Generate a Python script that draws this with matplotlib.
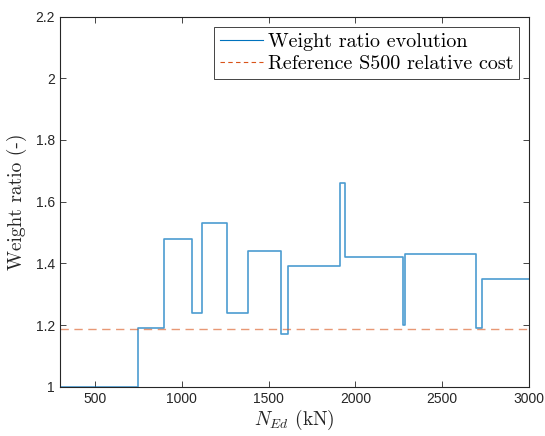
import matplotlib
matplotlib.use("Agg")
import matplotlib.pyplot as plt

# Step change points (kN) and weight ratio holding from each point on
n_ed = [300, 750, 900, 1060, 1115, 1262, 1381, 1574, 1610, 1912, 1943, 2273, 2285, 2695, 2729, 3000]
ratio = [1.00, 1.19, 1.48, 1.24, 1.53, 1.24, 1.44, 1.17, 1.39, 1.66, 1.42, 1.20, 1.43, 1.19, 1.35, 1.35]
ref_cost = 1.187

xticks = [500, 1000, 1500, 2000, 2500, 3000]
yticks = [1, 1.2, 1.4, 1.6, 1.8, 2, 2.2]
yticklabels = ["1", "1.2", "1.4", "1.6", "1.8", "2", "2.2"]

plt.rcParams['mathtext.fontset'] = 'cm'
plt.rcParams['font.family'] = ['Liberation Sans', 'DejaVu Sans']

fig = plt.figure(figsize=(5.45, 4.36), dpi=100)
ax = fig.add_axes([0.110, 0.113, 0.861, 0.849])

ax.plot(n_ed, ratio, drawstyle='steps-post', color='#0072BD', lw=1.2, alpha=0.7,
        label='Weight ratio evolution')
ax.axhline(ref_cost, color='#D95319', lw=1.0, ls=(0, (6, 4)), alpha=0.6,
           label='Reference S500 relative cost')

ax.set_xlim(300, 3000)
ax.set_ylim(1, 2.2)
ax.set_xticks(xticks)
ax.set_yticks(yticks)
ax.set_yticklabels(yticklabels)
ax.tick_params(direction='in', top=True, right=True, labelsize=10,
               colors='#262626', length=4, width=0.6)
for s in ax.spines.values():
    s.set_color('#262626')
    s.set_linewidth(0.8)

ax.set_xlabel(r'$N_{Ed}$ (kN)', fontfamily='cmr10', fontsize=14, color='#262626', labelpad=2)
ax.set_ylabel('Weight ratio (-)', fontfamily='cmr10', fontsize=14, color='#262626', labelpad=6)

leg = ax.legend(loc='upper right', prop={'family': 'cmr10', 'size': 14.5},
                fancybox=False, framealpha=1, edgecolor='#262626',
                handlelength=2.1, handletextpad=0.25, borderpad=0.3,
                labelspacing=0.22, borderaxespad=0.5)
leg.get_frame().set_linewidth(0.6)
leg.legend_handles[0].set_alpha(1.0)
leg.legend_handles[0].set_linewidth(0.8)
leg.legend_handles[1].set_alpha(1.0)
leg.legend_handles[1].set_linewidth(0.8)
leg.legend_handles[1].set_linestyle((0, (4, 3)))

fig.savefig('out.png', dpi=100)
